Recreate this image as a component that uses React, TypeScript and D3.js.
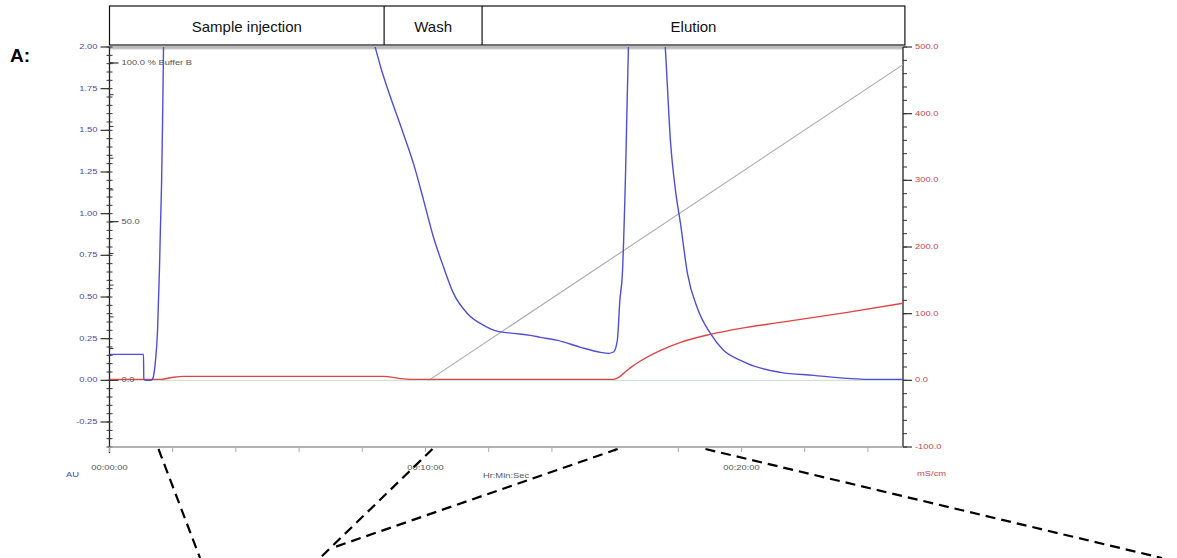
import * as d3 from "d3";
import { useEffect, useRef } from "react";

// UV absorbance (AU) vs time (min)
const uvTrace: [number, number][] = [
  [0, 0.156], [1.076, 0.156], [1.085, 0.006], [1.17, 0.0], [1.3, 0.0],
  [1.36, 0.006], [1.39, 0.024], [1.456, 0.12], [1.52, 0.3], [1.55, 0.48],
  [1.58, 0.66], [1.61, 0.9], [1.65, 1.2], [1.68, 1.56], [1.71, 2.0],
  [1.76, 2.35], [1.85, 2.55], [3.0, 2.7], [6.0, 2.6], [8.1, 2.2],
  [8.42, 1.99], [8.58, 1.88], [8.89, 1.7], [9.3, 1.48], [9.62, 1.3],
  [9.94, 1.08], [10.25, 0.86], [10.57, 0.68], [10.89, 0.52], [11.33, 0.4],
  [11.84, 0.33], [12.28, 0.294], [12.78, 0.282], [13.32, 0.27], [13.64, 0.258],
  [14.18, 0.24], [14.91, 0.198], [15.54, 0.168], [15.79, 0.162], [15.95, 0.17],
  [16.07, 0.24], [16.15, 0.48], [16.23, 0.64], [16.33, 1.24], [16.42, 1.99],
  [16.7, 2.8], [17.0, 3.0], [17.3, 2.8], [17.5, 2.25], [17.59, 1.99],
  [17.75, 1.44], [17.91, 1.14], [18.07, 0.94], [18.29, 0.64], [18.61, 0.43],
  [19.02, 0.28], [19.43, 0.18], [19.97, 0.12], [20.19, 0.1], [21.23, 0.048],
  [22.28, 0.03], [23.35, 0.012], [23.99, 0.006], [25.11, 0.006],
];

// Conductivity (mS/cm) vs time (min)
const conductivity: [number, number][] = [
  [0, 1.5], [1.61, 1.5], [1.93, 3.8], [2.34, 6], [8.68, 6], [9.15, 3],
  [9.53, 1.5], [15.95, 1.5], [16.11, 4.5], [16.27, 10.5], [16.49, 19],
  [16.8, 29], [17.44, 45], [18.07, 57], [19.02, 69], [19.97, 78],
  [21.23, 87], [23.35, 102], [25.11, 115.6],
];

// % Buffer B gradient
const gradientB: [number, number][] = [[10.1, 0], [25.11, 99.5]];

const phaseNames = ["Sample injection", "Wash", "Elution"];
const phaseBounds = [0, 8.69, 11.79, 25.17];

const auTicks = [-0.25, 0, 0.25, 0.5, 0.75, 1.0, 1.25, 1.5, 1.75, 2.0];
const condTicks = [-100, 0, 100, 200, 300, 400, 500];
const timeTicks = [0, 10, 20];
const bufferTicks = [0, 50, 100];

// zoom guide lines: start time on axis, end point below the chart
const guideStarts = [1.55, 10.22, 16.08, 18.86];
const guideEnds: [number, number][] = [[200, 558], [320, 558], [332, 548], [1162, 558]];

const FONT = "'Liberation Sans', Arial, sans-serif";

const fmt = (spec: string) => (v: number) => d3.format(spec)(v).replace("\u2212", "-");

const App = () => {
  const svgRef = useRef<SVGSVGElement>(null);

  useEffect(() => {
    const svg = d3.select(svgRef.current);
    svg.selectAll("*").remove();

    const left = 109.5;
    const right = 903;
    const top = 47;
    const bottom = 447;

    const x = d3.scaleLinear().domain([0, 25.11]).range([left, right]);
    const yAU = d3.scaleLinear().domain([-0.4, 2.0]).range([bottom, top]);
    const yCond = d3.scaleLinear().domain([-100, 500]).range([bottom, top]);
    const yB = d3.scaleLinear().domain([0, 100]).range([yAU(0), 63]);

    const small = (
      g: d3.Selection<SVGGElement, unknown, null, undefined>,
      px: number,
      py: number,
      txt: string,
      color: string,
      anchor = "start"
    ) => {
      g.append("text")
        .attr("transform", `translate(${px},${py}) scale(1.2,1)`)
        .attr("font-size", 7.8)
        .attr("font-family", FONT)
        .attr("fill", color)
        .attr("text-anchor", anchor)
        .attr("dominant-baseline", "middle")
        .text(txt);
    };

    const root = svg.append("g");

    // "A:" panel label
    root
      .append("text")
      .attr("x", 10)
      .attr("y", 62)
      .attr("font-size", 19)
      .attr("font-weight", "bold")
      .attr("font-family", FONT)
      .text("A:");

    // === phase header ===
    const header = root.append("g");
    header
      .append("rect")
      .attr("x", x(phaseBounds[0]))
      .attr("y", 6)
      .attr("width", x(phaseBounds[3]) - x(phaseBounds[0]))
      .attr("height", 39)
      .attr("fill", "white")
      .attr("stroke", "#111")
      .attr("stroke-width", 1.2);
    phaseNames.forEach((name, i) => {
      if (i > 0) {
        header
          .append("line")
          .attr("x1", x(phaseBounds[i]))
          .attr("x2", x(phaseBounds[i]))
          .attr("y1", 6)
          .attr("y2", 45)
          .attr("stroke", "#111")
          .attr("stroke-width", 1.2);
      }
      header
        .append("text")
        .attr("x", (x(phaseBounds[i]) + x(phaseBounds[i + 1])) / 2)
        .attr("y", 31.5)
        .attr("text-anchor", "middle")
        .attr("font-size", 15)
        .attr("font-family", FONT)
        .attr("fill", "#111")
        .text(name);
    });

    // top frame (double gray line)
    root.append("line").attr("x1", left).attr("x2", right).attr("y1", 47).attr("y2", 47)
      .attr("stroke", "#777").attr("stroke-width", 1);
    root.append("line").attr("x1", left).attr("x2", right).attr("y1", 48.8).attr("y2", 48.8)
      .attr("stroke", "#aaa").attr("stroke-width", 1);

    // zero line
    root
      .append("line")
      .attr("x1", left)
      .attr("x2", right)
      .attr("y1", yAU(0))
      .attr("y2", yAU(0))
      .attr("stroke", "#c9dcc9")
      .attr("stroke-width", 1);

    // === left AU axis ===
    const la = root.append("g");
    la.append("line").attr("x1", left).attr("x2", left).attr("y1", top).attr("y2", bottom + 6)
      .attr("stroke", "#222").attr("stroke-width", 1.3);
    d3.range(-8, 41).forEach((k) => {
      const v = k * 0.05;
      la.append("line").attr("x1", left - 3).attr("x2", left + 3)
        .attr("y1", yAU(v)).attr("y2", yAU(v)).attr("stroke", "#333").attr("stroke-width", 1);
    });
    auTicks.forEach((v) => {
      la.append("line").attr("x1", left - 9).attr("x2", left)
        .attr("y1", yAU(v)).attr("y2", yAU(v)).attr("stroke", "#333").attr("stroke-width", 1.2);
      small(la, left - 12, yAU(v), fmt(".2f")(v), "#4a4aa8", "end");
    });
    small(la, 66, 475, "AU", "#4a4aa8");

    // % Buffer B scale on the left axis
    d3.range(0, 101, 10).forEach((v) => {
      la.append("line").attr("x1", left).attr("x2", left + 4)
        .attr("y1", yB(v)).attr("y2", yB(v)).attr("stroke", "#333").attr("stroke-width", 1);
    });
    bufferTicks.forEach((v) => {
      la.append("line").attr("x1", left).attr("x2", left + 9)
        .attr("y1", yB(v)).attr("y2", yB(v)).attr("stroke", "#333").attr("stroke-width", 1.2);
      small(la, left + 12, yB(v), v === 100 ? "100.0 %  Buffer B" : fmt(".1f")(v), "#555");
    });

    // === right conductivity axis ===
    const ra = root.append("g");
    ra.append("line").attr("x1", right).attr("x2", right).attr("y1", top).attr("y2", bottom)
      .attr("stroke", "#222").attr("stroke-width", 1.3);
    d3.range(-100, 501, 20).forEach((v) => {
      ra.append("line").attr("x1", right).attr("x2", right + 4)
        .attr("y1", yCond(v)).attr("y2", yCond(v)).attr("stroke", "#333").attr("stroke-width", 1);
    });
    condTicks.forEach((v) => {
      ra.append("line").attr("x1", right).attr("x2", right + 9)
        .attr("y1", yCond(v)).attr("y2", yCond(v)).attr("stroke", "#333").attr("stroke-width", 1.2);
      small(ra, right + 12, yCond(v), fmt(".1f")(v), "#c84848");
    });
    small(ra, 917, 474, "mS/cm", "#c84848");

    // === bottom time axis ===
    const ba = root.append("g");
    ba.append("line").attr("x1", left).attr("x2", right).attr("y1", bottom).attr("y2", bottom)
      .attr("stroke", "#999").attr("stroke-width", 1.5);
    d3.range(0, 25, 2).forEach((t) => {
      ba.append("line").attr("x1", x(t)).attr("x2", x(t)).attr("y1", bottom).attr("y2", bottom + 5)
        .attr("stroke", "#aaa").attr("stroke-width", 1);
    });
    timeTicks.forEach((t) => {
      small(ba, x(t), 468, `00:${d3.format("02d")(t)}:00`, "#555", "middle");
    });
    small(ba, 506, 476, "Hr:Min:Sec", "#555", "middle");

    // === curves ===
    svg
      .append("defs")
      .append("clipPath")
      .attr("id", "plot-clip")
      .append("rect")
      .attr("x", left)
      .attr("y", top)
      .attr("width", right - left)
      .attr("height", bottom - top);

    const curves = root.append("g").attr("clip-path", "url(#plot-clip)");

    curves
      .append("path")
      .datum(gradientB)
      .attr("fill", "none")
      .attr("stroke", "#aaaaaa")
      .attr("stroke-width", 1.1)
      .attr("d", d3.line<[number, number]>().x((d) => x(d[0])).y((d) => yB(d[1])));

    curves
      .append("path")
      .datum(conductivity)
      .attr("fill", "none")
      .attr("stroke", "#e04444")
      .attr("stroke-width", 1.4)
      .attr(
        "d",
        d3.line<[number, number]>().x((d) => x(d[0])).y((d) => yCond(d[1])).curve(d3.curveMonotoneX)
      );

    curves
      .append("path")
      .datum(uvTrace)
      .attr("fill", "none")
      .attr("stroke", "#4e4ed6")
      .attr("stroke-width", 1.4)
      .attr(
        "d",
        d3.line<[number, number]>().x((d) => x(d[0])).y((d) => yAU(d[1])).curve(d3.curveMonotoneX)
      );

    // === dashed guide lines ===
    guideStarts.forEach((t, i) => {
      root
        .append("line")
        .attr("x1", x(t))
        .attr("y1", bottom + 2)
        .attr("x2", guideEnds[i][0])
        .attr("y2", guideEnds[i][1])
        .attr("stroke", "#000")
        .attr("stroke-width", 2.2)
        .attr("stroke-dasharray", "10,6");
    });
  }, []);

  return (
    <svg
      ref={svgRef}
      width={1177}
      height={558}
      style={{ position: "absolute", left: 0, top: 0, background: "white" }}
    />
  );
};

export default App;
